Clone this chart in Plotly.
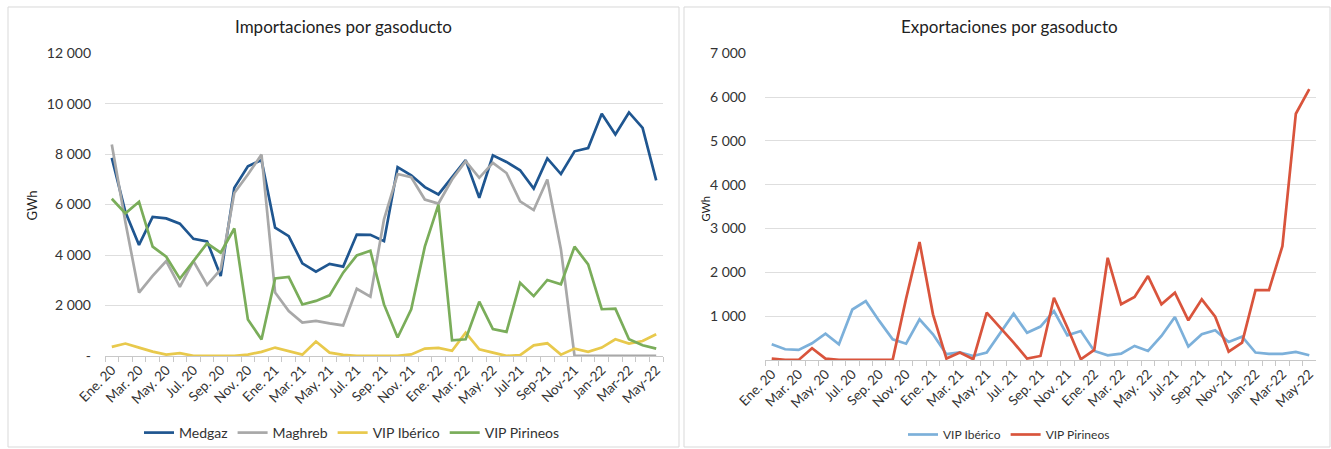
import plotly.graph_objects as go

W, H = 1331, 449

# Monthly categories (as labelled on the source axis)
months = [
    "Ene. 20", "Feb. 20", "Mar. 20", "Abr. 20", "May. 20", "Jun. 20", "Jul. 20", "Ago. 20",
    "Sep. 20", "Oct. 20", "Nov. 20", "Dic. 20",
    "Ene. 21", "Feb. 21", "Mar. 21", "Abr. 21", "May. 21", "Jun. 21", "Jul. 21", "Ago. 21",
    "Sep. 21", "Oct. 21", "Nov. 21", "Dic. 21",
    "Ene. 22", "Feb. 22", "Mar. 22", "Abr. 22", "May. 22",
    "Jun-21", "Jul-21", "Ago-21", "Sep-21", "Oct-21", "Nov-21", "Dec-21",
    "Jan-22", "Feb-22", "Mar-22", "Apr-22", "May-22",
]

# Imports (GWh)
medgaz = [7850, 5700, 4400, 5510, 5450, 5240, 4640, 4540, 3170, 6660, 7520, 7760,
          5080, 4750, 3670, 3340, 3650, 3540, 4810, 4800, 4550, 7480, 7160, 6690,
          6400, 7080, 7760, 6270, 7950, 7690, 7360, 6630, 7830, 7210, 8110, 8240,
          9600, 8780, 9650, 9040, 6960]
maghreb = [8380, 5300, 2510, 3170, 3760, 2740, 3760, 2810, 3430, 6460, 7190, 7980,
           2510, 1780, 1320, 1390, 1290, 1210, 2660, 2350, 5410, 7210, 7080, 6200,
           6040, 6990, 7720, 7060, 7650, 7250, 6130, 5780, 6990, 4220, 0, 0,
           0, 0, 0, 0, 0]
imp_iberico = [360, 490, 330, 170, 50, 110, 0, 0, 0, 0, 50, 160,
               330, 200, 50, 570, 130, 40, 0, 0, 0, 0, 60, 290,
               320, 200, 920, 260, 130, 0, 30, 420, 500, 50, 290, 160,
               330, 660, 490, 590, 860]
imp_pirineos = [6230, 5650, 6110, 4330, 3930, 3060, 3760, 4460, 4090, 5050, 1440, 650,
                3070, 3130, 2040, 2180, 2400, 3300, 3980, 4170, 2040, 730, 1850, 4330,
                6000, 620, 660, 2150, 1060, 950, 2900, 2370, 3010, 2840, 4330, 3630,
                1850, 1870, 660, 420, 290]

# Exports (GWh)
exp_iberico = [357, 243, 228, 380, 600, 357, 1150, 1340, 890, 470, 370, 925,
               585, 130, 170, 90, 170, 620, 1055, 620, 760, 1115, 560, 660,
               205, 106, 144, 320, 205, 547, 980, 304, 585, 676, 410, 530,
               167, 137, 137, 182, 106]
exp_pirineos = [30, 0, 0, 265, 30, 0, 0, 0, 0, 0, 1400, 2690,
                1040, 30, 170, 15, 1080, 740, 395, 30, 90, 1420, 740, 15,
                228, 2330, 1270, 1435, 1913, 1270, 1534, 903, 1382, 987, 190, 395,
                1594, 1594, 2596, 5618, 6180]

imp_ticks = [0, 2000, 4000, 6000, 8000, 10000, 12000]
imp_ticktext = ["-", "2 000", "4 000", "6 000", "8 000", "10 000", "12 000"]
exp_ticks = [1000, 2000, 3000, 4000, 5000, 6000, 7000]
exp_ticktext = ["1 000", "2 000", "3 000", "4 000", "5 000", "6 000", "7 000"]

FONT = "Lato"
TXT = "#333333"

def px_x(v):
    return v / W

def px_y(v):
    return 1 - v / H

fig = go.Figure()

imp_series = [
    ("Medgaz", medgaz, "#1f5690"),
    ("Maghreb", maghreb, "#a8a8a8"),
    ("VIP Ibérico", imp_iberico, "#e8c94c"),
    ("VIP Pirineos", imp_pirineos, "#7aad5a"),
]
for name, vals, col in imp_series:
    fig.add_trace(go.Scatter(x=months, y=vals, name=name, mode="lines",
                             line=dict(color=col, width=2.7),
                             xaxis="x", yaxis="y", legend="legend"))

exp_series = [
    ("VIP Ibérico", exp_iberico, "#7cb0da"),
    ("VIP Pirineos", exp_pirineos, "#d9543c"),
]
for name, vals, col in exp_series:
    fig.add_trace(go.Scatter(x=months, y=vals, name=name, mode="lines",
                             line=dict(color=col, width=2.7),
                             xaxis="x2", yaxis="y2", legend="legend2"))

tick_labels = [m if i % 2 == 0 else "" for i, m in enumerate(months)]

xcommon = dict(type="category", tickmode="array", tickvals=months, ticktext=tick_labels,
               tickson="boundaries", ticks="outside", ticklen=5, tickcolor="#c8c8c8",
               showline=True, linecolor="#c8c8c8", linewidth=1, showgrid=False,
               tickangle=-45, tickfont=dict(family=FONT, size=13.5, color=TXT),
               range=[-0.5, len(months) - 0.5], fixedrange=True, automargin=False)

fig.update_layout(
    width=W, height=H,
    margin=dict(l=0, r=0, t=0, b=0),
    paper_bgcolor="white", plot_bgcolor="white",
    font=dict(family=FONT, color=TXT),
    xaxis=dict(domain=[px_x(105), px_x(663)], anchor="y", **xcommon),
    yaxis=dict(domain=[px_y(356.7), px_y(53.3)], anchor="x", range=[0, 12000],
               tickmode="array", tickvals=imp_ticks, ticktext=imp_ticktext,
               showgrid=True, gridcolor="#dedede", gridwidth=1, zeroline=False,
               ticks="", ticklabelstandoff=13, automargin=False,
               tickfont=dict(family=FONT, size=14, color=TXT)),
    xaxis2=dict(domain=[px_x(765), px_x(1316)], anchor="y2", **xcommon),
    yaxis2=dict(domain=[px_y(360.7), px_y(53.3)], anchor="x2", range=[0, 7000],
                tickmode="array", tickvals=exp_ticks, ticktext=exp_ticktext,
                showgrid=True, gridcolor="#dedede", gridwidth=1, zeroline=False,
                ticks="", ticklabelstandoff=18, automargin=False,
                tickfont=dict(family=FONT, size=14, color=TXT)),
    legend=dict(orientation="h", x=px_x(352), xanchor="center", y=px_y(434), yanchor="middle",
                font=dict(family=FONT, size=14, color=TXT), itemwidth=30,
                bgcolor="rgba(0,0,0,0)", tracegroupgap=0),
    legend2=dict(orientation="h", x=px_x(1009), xanchor="center", y=px_y(435), yanchor="middle",
                 font=dict(family=FONT, size=12, color=TXT), itemwidth=30,
                 bgcolor="rgba(0,0,0,0)"),
    showlegend=True,
)

# Panel frames
fig.add_shape(type="rect", xref="paper", yref="paper",
              x0=px_x(8), x1=px_x(679), y0=px_y(448), y1=px_y(7),
              line=dict(color="#d9d9d9", width=1), fillcolor="rgba(0,0,0,0)", layer="below")
fig.add_shape(type="rect", xref="paper", yref="paper",
              x0=px_x(684), x1=px_x(1330), y0=px_y(448), y1=px_y(7),
              line=dict(color="#d9d9d9", width=1), fillcolor="rgba(0,0,0,0)", layer="below")

# Titles and axis titles
fig.add_annotation(text="Importaciones por gasoducto", xref="paper", yref="paper",
                   x=px_x(343), y=px_y(27), showarrow=False, xanchor="center", yanchor="middle",
                   font=dict(family=FONT, size=17, color="#222222"))
fig.add_annotation(text="Exportaciones por gasoducto", xref="paper", yref="paper",
                   x=px_x(1009), y=px_y(27), showarrow=False, xanchor="center", yanchor="middle",
                   font=dict(family=FONT, size=17, color="#222222"))
fig.add_annotation(text="GWh", xref="paper", yref="paper", textangle=-90,
                   x=px_x(32), y=px_y(206), showarrow=False, xanchor="center", yanchor="middle",
                   font=dict(family=FONT, size=13, color="#222222"))
fig.add_annotation(text="GWh", xref="paper", yref="paper", textangle=-90,
                   x=px_x(706), y=px_y(210), showarrow=False, xanchor="center", yanchor="middle",
                   font=dict(family=FONT, size=11, color="#222222"))

fig.write_html("out.html", post_script="document.body.style.margin='0';")
